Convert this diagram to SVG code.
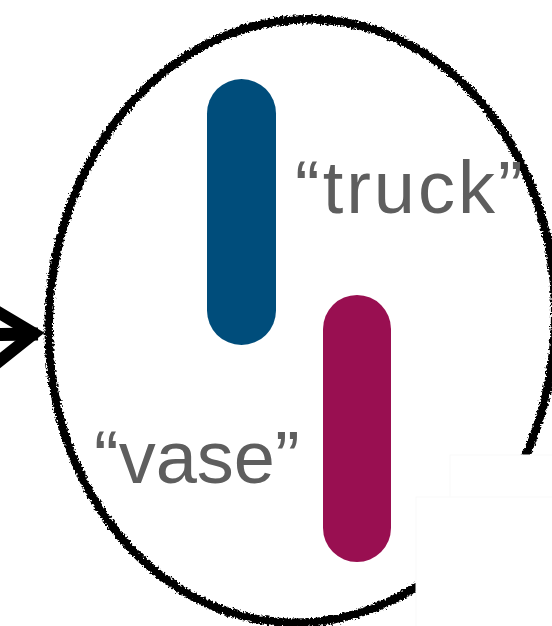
<svg xmlns="http://www.w3.org/2000/svg" width="552" height="626" viewBox="0 0 552 626">
  <defs>
    <filter id="rough" x="-10%" y="-10%" width="120%" height="120%">
      <feTurbulence type="fractalNoise" baseFrequency="0.45" numOctaves="3" seed="7" result="n"/>
      <feDisplacementMap in="SourceGraphic" in2="n" scale="6" xChannelSelector="R" yChannelSelector="G"/>
    </filter>
    <style>
      .label { font-family: "Liberation Sans", Arial, Helvetica, sans-serif; font-size: 74px; fill: #5e5e5e; }
      .sketch { fill: none; stroke: #000; }
      .cover { fill: #fff; stroke: #f9f9f9; stroke-width: 1; }
    </style>
  </defs>
  <rect width="552" height="626" fill="#fff"/>

  <g id="connectors">
    <line x1="-10" y1="334.5" x2="38" y2="334" stroke="#000" stroke-width="13"/>
    <polyline points="-12,306 34,333.5 -12,370" fill="none" stroke="#000" stroke-width="12" stroke-linejoin="miter" stroke-miterlimit="10"/>
  </g>

  <g id="outline" filter="url(#rough)">
    <ellipse class="sketch" cx="302" cy="321" rx="253" ry="302" transform="rotate(4 302 320)" stroke-width="8.5"/>
    <ellipse class="sketch" cx="302.5" cy="321.5" rx="252" ry="301" transform="rotate(4 302 320)" stroke-width="4"/>
  </g>

  <g id="cover">
    <rect class="cover" x="450" y="455" width="110" height="180"/>
    <rect class="cover" x="416" y="497" width="140" height="140"/>
  </g>

  <g id="node-truck">
    <rect x="207" y="79" width="69" height="266" rx="34.5" ry="34.5" fill="#004d7b"/>
    <text class="label" x="295" y="213" letter-spacing="3">“truck”</text>
  </g>

  <g id="node-vase">
    <rect x="323" y="295" width="68" height="267" rx="34" ry="34" fill="#990f51"/>
    <text class="label" x="94" y="483">“vase”</text>
  </g>
</svg>
